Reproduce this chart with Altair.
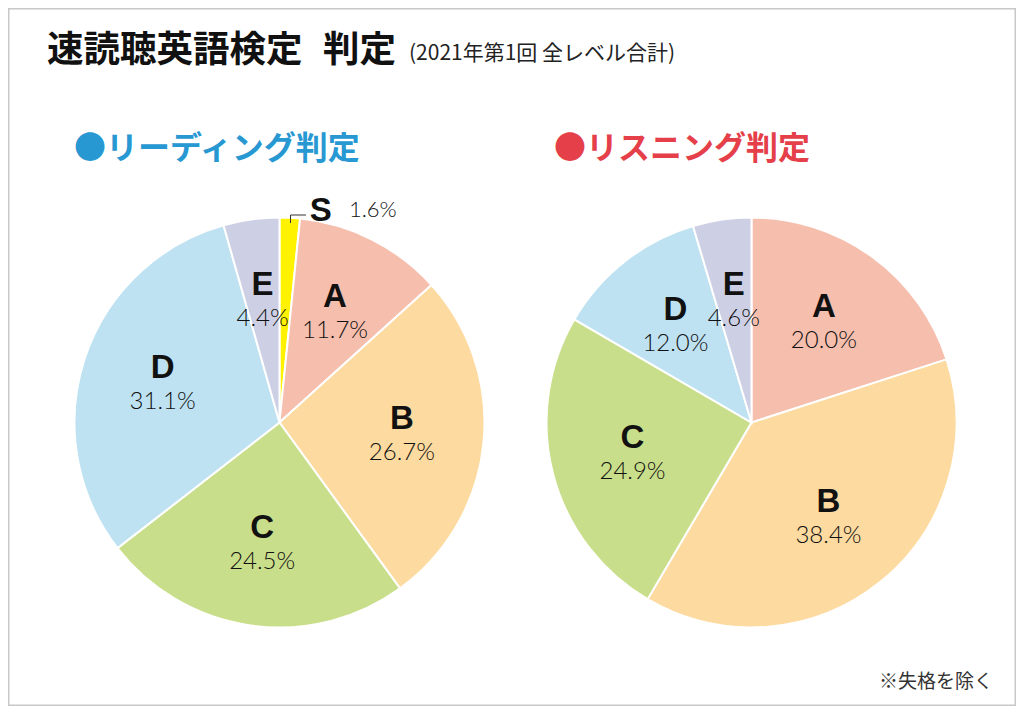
import altair as alt
import pandas as pd

# ---- data ----
reading_grades = ["S", "A", "B", "C", "D", "E"]
reading_pct = [1.6, 11.7, 26.7, 24.5, 31.1, 4.4]
listening_grades = ["A", "B", "C", "D", "E"]
listening_pct = [20.0, 38.4, 24.9, 12.0, 4.6]

grade_domain = ["S", "A", "B", "C", "D", "E"]
grade_colors = ["#FFF200", "#F6BEAD", "#FDDA9F", "#C9DE8A", "#BEE2F2", "#CDD0E5"]

title_main = ["速読聴英語検定"]
title_main2 = ["判定"]
title_sub = ["(2021年第1回 全レベル合計)"]
head_reading = ["●リーディング判定"]
head_listening = ["●リスニング判定"]
footnote = ["※失格を除く"]

rows = []
for test, grades, pcts in [("reading", reading_grades, reading_pct),
                           ("listening", listening_grades, listening_pct)]:
    for i, (g, p) in enumerate(zip(grades, pcts)):
        is_s = g == "S"
        rows.append({
            "test": test, "grade": g, "pct": p, "rank": i,
            "letter": "" if is_s else g,
            "pct_label": "" if is_s else f"{p:.1f}%",
            "s_letter": g if is_s else "",
            "s_pct": f"{p:.1f}%" if is_s else "",
        })
df = pd.DataFrame(rows)

color_scale = alt.Scale(domain=grade_domain, range=grade_colors)
R = 205
LR = 123


def pie(test, cx, cy):
    base = alt.Chart(df).transform_filter(alt.datum.test == test).encode(
        theta=alt.Theta("pct:Q", stack=True),
        order=alt.Order("rank:Q"),
        x=alt.value(cx),
        y=alt.value(cy),
    )
    arc = base.mark_arc(radius=R, stroke="white", strokeWidth=2).encode(
        color=alt.Color("grade:N", scale=color_scale, legend=None)
    )
    letters = base.mark_text(
        radius=LR, dy=-16, font="Liberation Sans", fontWeight="bold",
        fontSize=33, color="#111111"
    ).encode(text="letter:N", detail="grade:N")
    pcts = base.mark_text(
        radius=LR, dy=18, font="Lato", fontWeight=300, fontSize=24,
        color="#111111"
    ).encode(text="pct_label:N", detail="grade:N")
    layers = [arc, letters, pcts]
    if test == "reading":
        s_letter = base.mark_text(
            radius=R, dx=31, dy=-7, font="Liberation Sans", fontWeight="bold",
            fontSize=33, color="#111111"
        ).encode(text="s_letter:N", detail="grade:N")
        s_pct = base.mark_text(
            radius=R, dx=83, dy=-8, font="Lato", fontWeight=300, fontSize=22,
            color="#111111"
        ).encode(text="s_pct:N", detail="grade:N")
        layers += [s_letter, s_pct]
    return layers


def label(texts, x, y, size, weight, color, align="left", font="Noto Sans CJK JP"):
    return alt.Chart(pd.DataFrame({"t": texts})).mark_text(
        align=align, baseline="middle", fontSize=size, fontWeight=weight,
        color=color, font=font
    ).encode(text="t:N", x=alt.value(x), y=alt.value(y))


one = pd.DataFrame({"k": [0]})
leader_v = alt.Chart(one).mark_rule(color="#333333", strokeWidth=1).encode(
    x=alt.value(282.5), y=alt.value(207), y2=alt.value(215))
leader_h = alt.Chart(one).mark_rule(color="#333333", strokeWidth=1).encode(
    x=alt.value(282.5), x2=alt.value(298), y=alt.value(207))

layers = []
layers += pie("reading", 271.5, 414.5)
layers += pie("listening", 743.5, 414.5)
layers += [
    leader_v, leader_h,
    label(title_main, 39, 43, 36.5, "bold", "#111111"),
    label(title_main2, 315, 43, 36.5, "bold", "#111111"),
    label(title_sub, 401, 46, 21, "normal", "#222222"),
    label(head_reading, 66, 141, 32, "bold", "#2898D3"),
    label(head_listening, 546, 141, 32, "bold", "#E5404A"),
    label(footnote, 985, 674, 19, "normal", "#333333", align="right"),
]

chart = alt.layer(*layers).resolve_scale(theta="independent").properties(
    width=1008, height=698, padding=0,
    autosize=alt.AutoSizeParams(type="none"),
    background="white",
).configure_view(stroke="#c8c8c8", strokeWidth=3)

chart.save("out.html", embed_options={"renderer": "svg", "actions": False})
